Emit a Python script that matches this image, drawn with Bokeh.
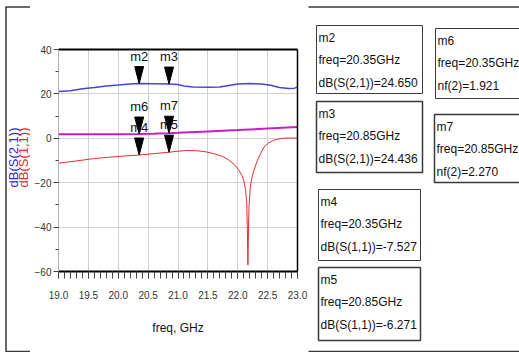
import math
from bokeh.plotting import figure
from bokeh.models import Range1d, FixedTicker, PrintfTickFormatter, LinearAxis
from bokeh.layouts import row
from bokeh.core.properties import value
from bokeh.embed import file_html
from bokeh.resources import INLINE

# ---------------- data ----------------
freq_s21 = [19.0, 19.2, 19.4, 19.6, 19.8, 20.0, 20.2, 20.35, 20.6, 20.85, 21.0, 21.1,
            21.25, 21.5, 21.7, 21.85, 22.0, 22.2, 22.4, 22.55, 22.7, 22.85, 22.95, 23.0]
s21_db = [21.1, 21.4, 22.3, 22.9, 23.6, 24.0, 24.5, 24.65, 24.6, 24.436, 24.2, 23.6,
          23.1, 23.0, 23.1, 23.8, 24.5, 24.7, 24.5, 23.9, 22.9, 22.4, 22.6, 23.1]

freq_s11 = [19.0, 19.3, 19.6, 19.9, 20.1, 20.35, 20.6, 20.85, 21.0, 21.15, 21.3, 21.45,
            21.6, 21.75, 21.85, 21.95, 22.02, 22.07, 22.1, 22.13, 22.15, 22.16, 22.17,
            22.18, 22.19, 22.21, 22.24, 22.27, 22.33, 22.39, 22.44, 22.52, 22.6, 22.7,
            22.8, 23.0]
s11_db = [-11.2, -10.2, -9.1, -8.4, -8.0, -7.527, -6.9, -6.271, -5.8, -5.5, -5.6, -6.0,
          -6.9, -8.2, -9.8, -12.0, -14.4, -16.8, -19.0, -23.0, -29.0, -40.0, -57.0,
          -40.0, -30.0, -22.0, -17.4, -14.4, -9.9, -6.5, -3.9, -2.0, -0.9, -0.2,
          0.1, 0.1]

freq_nf = [19.0, 19.5, 20.0, 20.35, 20.6, 20.65, 20.85, 21.0, 21.5, 22.0, 22.5, 23.0]
nf_val = [1.8, 1.85, 1.88, 1.921, 2.0, 2.2, 2.27, 2.45, 3.1, 3.7, 4.4, 5.1]

marker_names = ["m2", "m3", "m4", "m5", "m6", "m7"]
marker_freq = [20.35, 20.85, 20.35, 20.85, 20.35, 20.85]
marker_val = [24.650, 24.436, -7.527, -6.271, 1.921, 2.270]
marker_expr = ["dB(S(2,1))", "dB(S(2,1))", "dB(S(1,1))", "dB(S(1,1))", "nf(2)", "nf(2)"]

y_titles = ["dB(S(2,1))", "dB(S(1,1))"]

x_ticks = [19.0, 19.5, 20.0, 20.5, 21.0, 21.5, 22.0, 22.5, 23.0]
x_minor = [round(19.0 + 0.1 * i, 1) for i in range(41)]
y_ticks = [-60, -40, -20, 0, 20, 40]
y_minor = [-60, -50, -40, -30, -20, -10, 0, 10, 20, 30, 40]

# ---------------- styles ----------------
FONT_NAME = "Liberation Sans"
FONT = value(FONT_NAME)
BLUE = "#4646cc"
MAGENTA = "#c81ec8"
RED = "#e03030"
FRAME_LINE = "#3a3a3a"

W, H = 519, 352
LEFT_W, MAIN_W = 30, 278
RIGHT_W = W - LEFT_W - MAIN_W
TOP_Y, BOT_Y = 6.5, 351

# plot frame geometry (pixels)
FRAME_L, FRAME_T = 58, 49
FRAME_W, FRAME_H = 239, 222
px_per_ghz = FRAME_W / 4.0
px_per_db = FRAME_H / 100.0


def blank(width, height, x0, x1, y0, y1):
    f = figure(width=width, height=height, x_range=Range1d(x0, x1), y_range=Range1d(y1, y0),
               output_backend="svg", toolbar_location=None, min_border=0,
               x_axis_type=None, y_axis_type=None, frame_align=False, title=None)
    f.outline_line_color = None
    f.grid.grid_line_color = None
    f.background_fill_color = "white"
    f.border_fill_color = "white"
    return f


def edges(f, x0, x1):
    f.segment(x0=[x0, x0], y0=[TOP_Y, BOT_Y], x1=[x1, x1], y1=[TOP_Y, BOT_Y],
              line_color=FRAME_LINE, line_width=1.5)


# ---- left strip: outer frame edge and two-colour y title ----
left = blank(LEFT_W, H, 0, LEFT_W, 0, H)
edges(left, 5, LEFT_W + 1)
left.segment(x0=[5.5], y0=[TOP_Y], x1=[5.5], y1=[BOT_Y], line_color=FRAME_LINE, line_width=1.5)
left.text(x=[12.5, 23], y=[157, 157], text=y_titles, angle=math.pi / 2,
          text_align="center", text_baseline="middle", text_font=FONT,
          text_font_size="13px", text_color=["#2a2ad8", "#e42a2a"])

# ---- main plot ----
p = figure(width=MAIN_W, height=H, x_range=Range1d(19, 23), y_range=Range1d(-60, 40),
           output_backend="svg", toolbar_location=None, frame_align=False, title=None,
           min_border_left=FRAME_L - LEFT_W, min_border_right=MAIN_W - (FRAME_L - LEFT_W) - FRAME_W,
           min_border_top=FRAME_T, min_border_bottom=H - FRAME_T - FRAME_H)
p.outline_line_color = None
p.background_fill_color = "white"
p.border_fill_color = "white"

xt = FixedTicker(ticks=x_ticks, minor_ticks=x_minor)
yt = FixedTicker(ticks=y_ticks, minor_ticks=y_minor)
p.xaxis.ticker = xt
p.yaxis.ticker = yt
p.xgrid.ticker = xt
p.ygrid.ticker = yt
p.grid.grid_line_color = "#d2d2d2"
p.grid.grid_line_width = 1

p.xaxis.formatter = PrintfTickFormatter(format="%.1f")
p.xaxis.axis_line_color = "black"
p.xaxis.axis_line_width = 2
p.xaxis.major_tick_in = 0
p.xaxis.major_tick_out = 7
p.xaxis.minor_tick_in = 0
p.xaxis.minor_tick_out = 7
p.xaxis.major_tick_line_color = "#444444"
p.xaxis.minor_tick_line_color = "#444444"
p.xaxis.major_label_text_font = FONT_NAME
p.xaxis.major_label_text_font_size = "10px"
p.xaxis.major_label_text_color = "#333333"
p.xaxis.major_label_standoff = 12
p.xaxis.axis_label = "freq, GHz"
p.xaxis.axis_label_text_font = FONT_NAME
p.xaxis.axis_label_text_font_size = "12px"
p.xaxis.axis_label_text_font_style = "normal"
p.xaxis.axis_label_text_color = "#111111"
p.xaxis.axis_label_standoff = 19

p.yaxis.axis_line_color = "#b0b0b0"
p.yaxis.major_tick_in = 0
p.yaxis.major_tick_out = 5
p.yaxis.minor_tick_in = 0
p.yaxis.minor_tick_out = 3
p.yaxis.major_tick_line_color = "#444444"
p.yaxis.minor_tick_line_color = "#444444"
p.yaxis.major_label_text_font = FONT_NAME
p.yaxis.major_label_text_font_size = "10px"
p.yaxis.major_label_text_color = "#333333"
p.yaxis.major_label_standoff = 2

for side, width in (("above", 2), ("right", 1.5)):
    ax = LinearAxis(ticker=FixedTicker(ticks=[]), axis_line_color="black",
                    axis_line_width=width, major_tick_line_color=None,
                    minor_tick_line_color=None, major_label_text_font_size="0px")
    p.add_layout(ax, side)

p.line(freq_s21, s21_db, line_color=BLUE, line_width=1.5)
p.line(freq_nf, nf_val, line_color=MAGENTA, line_width=2)
p.line(freq_s11, s11_db, line_color=RED, line_width=1)

hw = 4.5 / px_per_ghz
th = 17.0 / px_per_db
tri_xs = [[f - hw, f + hw, f] for f in marker_freq]
tri_ys = [[v + th, v + th, v] for v in marker_val]
p.patches(tri_xs, tri_ys, fill_color="black", line_color="black", line_width=1)
p.text(x=marker_freq, y=marker_val, text=marker_names, y_offset=-27.5,
       text_align="center", text_baseline="middle", text_font=FONT,
       text_font_size="13px", text_color="#111111")

# ---- marker read-out boxes (page pixel coordinates) ----
right = blank(RIGHT_W, H, LEFT_W + MAIN_W, W, 0, H)
edges(right, LEFT_W + MAIN_W - 1, W + 5)

box_left = [316, 316, 318, 318, 435, 434]
box_right = [422, 422, 420, 420, 545, 545]
box_top = [25, 101, 189, 267, 28, 114]
box_bottom = [93, 172, 260, 340, 98, 182]
box_line_w = [1, 1.5, 1, 1.5, 1, 1.5]

right.quad(left=box_left, right=box_right, top=box_top, bottom=box_bottom,
           fill_color="white", line_color="#3a3a3a", line_width=box_line_w)

tx, ty, tt = [], [], []
for i, name in enumerate(marker_names):
    lines = [name, "freq=%.2fGHz" % marker_freq[i], "%s=%.3f" % (marker_expr[i], marker_val[i])]
    for k, s in enumerate(lines):
        tx.append(box_left[i] + 2)
        ty.append(box_top[i] + 12 + 22.5 * k)
        tt.append(s)
right.text(x=tx, y=ty, text=tt, text_align="left", text_baseline="middle",
           text_font=FONT, text_font_size="12px", text_color="#111111")

layout = row(left, p, right)
open("out.html", "w").write(file_html(layout, INLINE))
